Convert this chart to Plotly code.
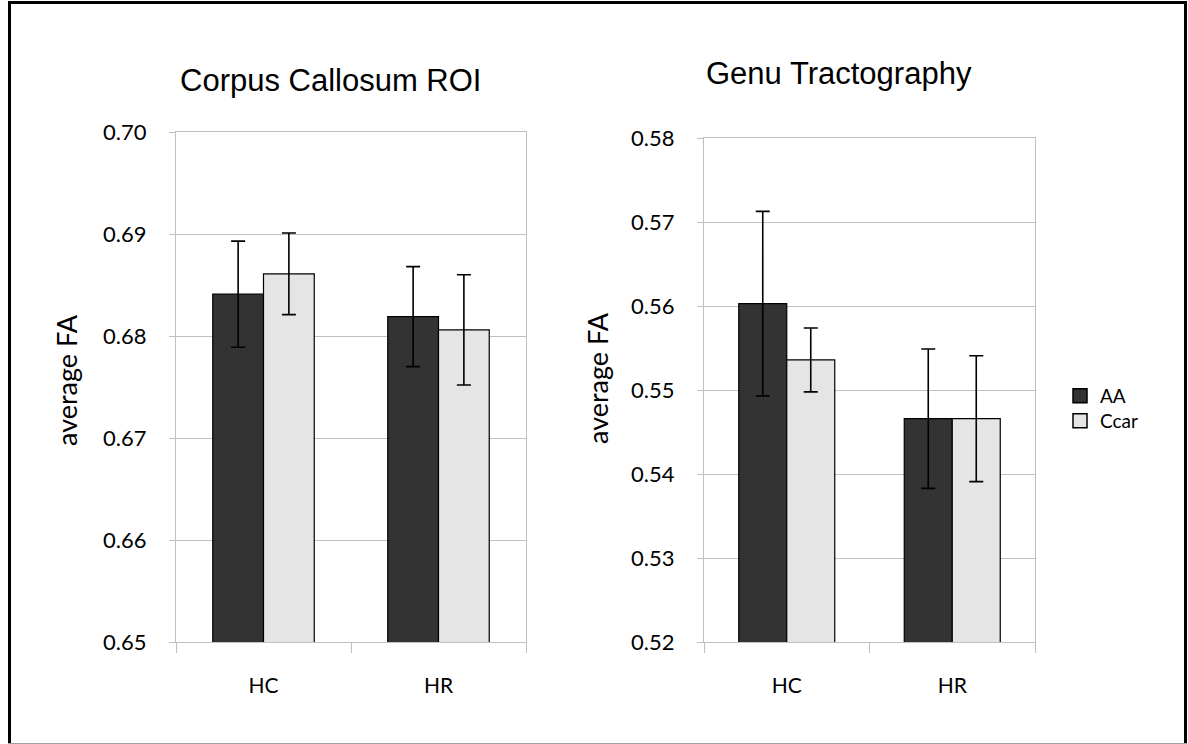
import plotly.graph_objects as go

categories = ["HC", "HR"]
series_names = ["AA", "Ccar"]

cc_aa = [0.6841, 0.6819]
cc_aa_err = [0.0052, 0.0049]
cc_ccar = [0.6861, 0.6806]
cc_ccar_err = [0.0040, 0.0054]

genu_aa = [0.5603, 0.5466]
genu_aa_err = [0.0110, 0.0083]
genu_ccar = [0.5536, 0.5466]
genu_ccar_err = [0.0038, 0.0075]

cc_yticks = [0.65, 0.66, 0.67, 0.68, 0.69, 0.70]
genu_yticks = [0.52, 0.53, 0.54, 0.55, 0.56, 0.57, 0.58]

W, H = 1188, 744
def px(x):
    return x / W
def py(y):
    return (H - y) / H

colors = {"AA": "#333333", "Ccar": "#e5e5e5"}
grid = "#c0c0c0"
FONT = "Lato, Open Sans, sans-serif"
ytick_font = dict(family=FONT, size=22, color="#000000")
xtick_font = dict(family=FONT, size=21, color="#000000")

fig = go.Figure()

def add_bars(xa, ya, aa, aa_err, cc, cc_err):
    for name, vals, errs in [("AA", aa, aa_err), ("Ccar", cc, cc_err)]:
        fig.add_trace(go.Bar(
            x=categories, y=vals, name=name,
            xaxis=xa, yaxis=ya,
            marker=dict(color=colors[name], line=dict(color="#000000", width=1.2)),
            error_y=dict(type="data", array=errs, visible=True,
                         color="#000000", thickness=1.6, width=7),
            showlegend=False, legendgroup=name,
        ))

add_bars("x", "y", cc_aa, cc_aa_err, cc_ccar, cc_ccar_err)
add_bars("x2", "y2", genu_aa, genu_aa_err, genu_ccar, genu_ccar_err)

# legend-only entries (square swatches)
for name, lg in [("AA", "legend"), ("Ccar", "legend2")]:
    fig.add_trace(go.Scatter(
        x=[None], y=[None], mode="markers", name=name, legend=lg,
        marker=dict(symbol="square", size=14, color=colors[name],
                    line=dict(color="#000000", width=1.5)),
        showlegend=True, hoverinfo="skip",
    ))

axis_common = dict(showline=True, linecolor=grid, linewidth=1, mirror=True, automargin=False)

def xaxis_cfg(dom, anchor):
    return dict(domain=dom, anchor=anchor, type="category",
                tickson="boundaries", ticks="outside", ticklen=10, tickcolor=grid,
                tickfont=xtick_font, ticklabelstandoff=25, showgrid=False, **axis_common)

def yaxis_cfg(dom, anchor, rng, ticks):
    return dict(domain=dom, anchor=anchor, range=rng,
                tickvals=ticks, tickformat=".2f", ticks="outside", ticklen=6,
                tickcolor=grid, gridcolor=grid, gridwidth=1, tickfont=ytick_font,
                ticklabelstandoff=18, zeroline=False, **axis_common)

legend_font = dict(family=FONT, size=19, color="#000000")

fig.update_layout(
    width=W, height=H, autosize=False,
    margin=dict(l=0, r=0, t=0, b=0, pad=0),
    paper_bgcolor="white", plot_bgcolor="white",
    barmode="group", bargap=0.42, bargroupgap=0,
    xaxis=xaxis_cfg([px(176), px(526)], "y"),
    yaxis=yaxis_cfg([py(642), py(132)], "x", [0.65, 0.70], cc_yticks),
    xaxis2=xaxis_cfg([px(704), px(1035)], "y2"),
    yaxis2=yaxis_cfg([py(642), py(138.3)], "x2", [0.52, 0.58], genu_yticks),
    legend=dict(x=px(1060), y=py(396), xanchor="left", yanchor="middle",
                font=legend_font, bgcolor="rgba(0,0,0,0)", itemwidth=30),
    legend2=dict(x=px(1060), y=py(421), xanchor="left", yanchor="middle",
                 font=legend_font, bgcolor="rgba(0,0,0,0)", itemwidth=30),
    annotations=[
        dict(text="Corpus Callosum ROI", x=px(330), y=py(80), xref="paper", yref="paper",
             showarrow=False, xanchor="center", yanchor="middle",
             font=dict(family="Liberation Sans, Arial, sans-serif", size=31, color="#000000")),
        dict(text="Genu Tractography", x=px(839), y=py(73), xref="paper", yref="paper",
             showarrow=False, xanchor="center", yanchor="middle",
             font=dict(family="Liberation Sans, Arial, sans-serif", size=31, color="#000000")),
        dict(text="average FA", x=px(66), y=py(380), xref="paper", yref="paper",
             showarrow=False, xanchor="center", yanchor="middle", textangle=-90,
             font=dict(family=FONT, size=27, color="#000000")),
        dict(text="average FA", x=px(597), y=py(378), xref="paper", yref="paper",
             showarrow=False, xanchor="center", yanchor="middle", textangle=-90,
             font=dict(family=FONT, size=27, color="#000000")),
    ],
    shapes=[
        dict(type="line", xref="paper", yref="paper", x0=px(9.5), x1=px(9.5), y0=py(744), y1=py(1), line=dict(color="black", width=3)),
        dict(type="line", xref="paper", yref="paper", x0=px(8), x1=px(1187), y0=py(2.5), y1=py(2.5), line=dict(color="black", width=3)),
        dict(type="line", xref="paper", yref="paper", x0=px(1185.5), x1=px(1185.5), y0=py(744), y1=py(1), line=dict(color="black", width=3)),
        dict(type="line", xref="paper", yref="paper", x0=px(8), x1=px(1187), y0=py(743.5), y1=py(743.5), line=dict(color="#a0a0a0", width=1)),
    ],
)

fig.write_html("out.html")
